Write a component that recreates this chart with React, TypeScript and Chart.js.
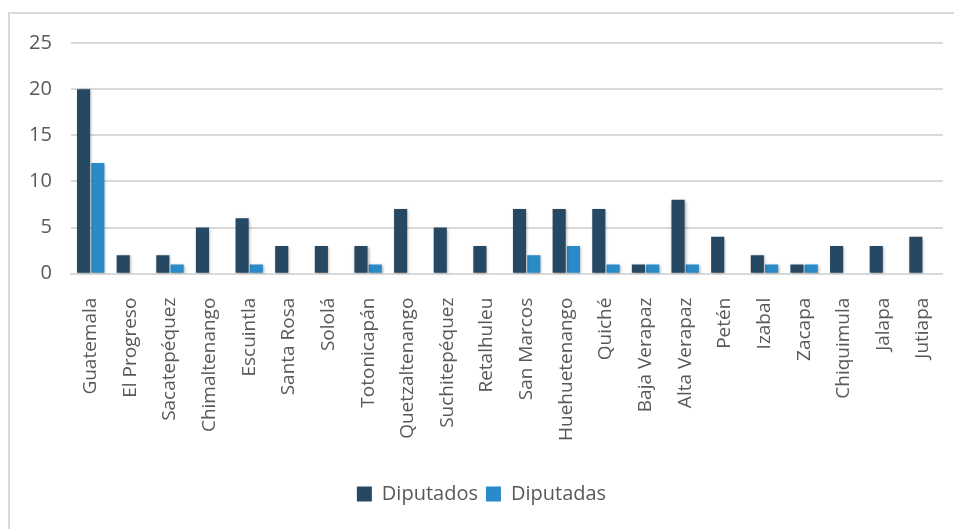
import React, { useEffect, useRef } from "react";
import { Chart, registerables } from "chart.js";

Chart.register(...registerables);

const categories = [
  "Guatemala", "El Progreso", "Sacatepéquez", "Chimaltenango", "Escuintla", "Santa Rosa",
  "Sololá", "Totonicapán", "Quetzaltenango", "Suchitepéquez", "Retalhuleu", "San Marcos",
  "Huehuetenango", "Quiché", "Baja Verapaz", "Alta Verapaz", "Petén", "Izabal", "Zacapa",
  "Chiquimula", "Jalapa", "Jutiapa",
];
const diputados = [20, 2, 2, 5, 6, 3, 3, 3, 7, 5, 3, 7, 7, 7, 1, 8, 4, 2, 1, 3, 3, 4];
const diputadas = [12, 0, 1, 0, 1, 0, 0, 1, 0, 0, 0, 2, 3, 1, 1, 1, 0, 1, 1, 0, 0, 0];
const yTicks = [0, 5, 10, 15, 20, 25];

const shadowPlugin = {
  id: "barShadow",
  beforeDatasetsDraw(chart: any) {
    const ctx = chart.ctx;
    ctx.save();
    ctx.shadowColor = "rgba(0,0,0,0.35)";
    ctx.shadowBlur = 3;
    ctx.shadowOffsetX = 1;
    ctx.shadowOffsetY = 1;
  },
  afterDatasetsDraw(chart: any) {
    chart.ctx.restore();
  },
};

export default function App() {
  const ref = useRef<HTMLCanvasElement>(null);
  useEffect(() => {
    if (!ref.current) return;
    const chart = new Chart(ref.current, {
      type: "bar",
      data: {
        labels: categories,
        datasets: [
          { label: "Diputados", data: diputados, backgroundColor: "#264863", categoryPercentage: 0.72, barPercentage: 0.92 },
          { label: "Diputadas", data: diputadas, backgroundColor: "#2a8bc8", categoryPercentage: 0.72, barPercentage: 0.92 },
        ],
      },
      options: {
        animation: false,
        responsive: false,
        maintainAspectRatio: false,
        layout: { padding: { top: 12, right: 9, left: 0, bottom: 15 } },
        plugins: {
          legend: {
            position: "bottom",
            labels: {
              boxWidth: 15,
              boxHeight: 15,
              padding: 8,
              color: "#595959",
              font: { family: "Open Sans", size: 20 },
            },
          },
          tooltip: { enabled: false },
        },
        scales: {
          x: {
            grid: { display: false },
            border: { color: "#d9d9d9", width: 2 },
            afterFit: (axis: any) => {
              axis.height += 19;
            },
            ticks: {
              color: "#595959",
              font: { family: "Open Sans", size: 19 },
              maxRotation: 90,
              minRotation: 90,
              autoSkip: false,
              padding: 16,
            },
          },
          y: {
            min: 0,
            max: 25,
            afterBuildTicks: (axis: any) => {
              axis.ticks = yTicks.map((v) => ({ value: v }));
            },
            grid: { color: "#d9d9d9", lineWidth: 2, drawTicks: false },
            border: { display: false },
            ticks: {
              color: "#595959",
              font: { family: "Open Sans", size: 20 },
              padding: 19,
            },
          },
        },
      },
      plugins: [shadowPlugin],
    });
    return () => chart.destroy();
  }, []);
  return (
    <div
      style={{
        marginTop: 4,
        width: 954,
        height: 517,
        boxSizing: "border-box",
        borderTop: "2px solid #d9d9d9",
        borderLeft: "2px solid #d9d9d9",
      }}
    >
      <canvas
        ref={ref}
        width={952}
        height={517}
        style={{ display: "block", position: "relative", top: -2 }}
      />
    </div>
  );
}
